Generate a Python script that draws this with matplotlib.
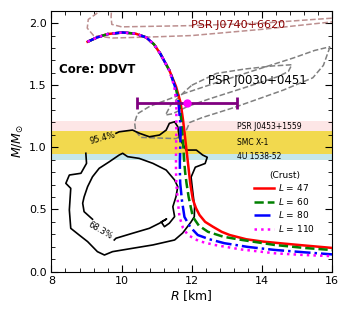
import numpy as np
import matplotlib.pyplot as plt
from matplotlib.ticker import MultipleLocator

# mass-radius curves (core DDVT + crust with different L)
core_R = [9.03, 9.3, 9.6, 10.03, 10.4, 10.7, 10.92, 11.1, 11.36]
core_M = [1.85, 1.885, 1.912, 1.925, 1.915, 1.885, 1.83, 1.755, 1.62]

r47 = [11.55, 11.68, 11.75, 11.80, 11.84, 11.88, 11.92, 11.96, 12.03, 12.12, 12.22, 12.38, 12.6, 12.85, 13.08, 13.55, 14.0, 14.51, 15.2, 16.0]
m47 = [1.49, 1.36, 1.22, 1.10, 1.0, 0.90, 0.80, 0.70, 0.58, 0.51, 0.455, 0.40, 0.361, 0.32, 0.294, 0.26, 0.242, 0.228, 0.21, 0.19]
r60 = [11.53, 11.64, 11.70, 11.73, 11.76, 11.78, 11.81, 11.85, 11.91, 12.03, 12.2, 12.46, 12.9, 13.41, 14.36, 15.2, 16.0]
m60 = [1.49, 1.36, 1.22, 1.10, 1.0, 0.90, 0.80, 0.71, 0.60, 0.44, 0.37, 0.32, 0.28, 0.255, 0.214, 0.19, 0.173]
r80 = [11.52, 11.62, 11.67, 11.68, 11.67, 11.66, 11.66, 11.67, 11.72, 11.79, 11.95, 12.17, 12.5, 12.93, 13.6, 14.36, 15.2, 16.0]
m80 = [1.49, 1.36, 1.20, 1.10, 1.0, 0.9, 0.8, 0.71, 0.57, 0.44, 0.36, 0.294, 0.26, 0.228, 0.198, 0.174, 0.155, 0.138]
r110 = [11.5, 11.56, 11.56, 11.56, 11.55, 11.55, 11.55, 11.56, 11.60, 11.65, 11.75, 11.89, 12.2, 12.65, 13.4, 14.36, 15.2, 16.0]
m110 = [1.49, 1.36, 1.2, 1.1, 1.0, 0.9, 0.8, 0.71, 0.57, 0.44, 0.35, 0.294, 0.245, 0.214, 0.178, 0.147, 0.133, 0.124]

L_vals = [47, 60, 80, 110]

# PSR J0740+6620 contours
j0740_out_R = [9.7, 9.3, 9.05, 9.02, 9.2, 9.74, 11.0, 12.0, 14.0, 16.0, 16.3, 16.3]
j0740_out_M = [2.15, 2.08, 2.03, 1.96, 1.90, 1.88, 1.89, 1.90, 1.95, 2.01, 2.02, 2.15]
j0740_in_R = [9.72, 9.70, 9.72, 10.0, 11.0, 12.0, 14.0, 16.0, 16.3, 16.3]
j0740_in_M = [2.15, 2.05, 1.99, 1.97, 1.975, 1.98, 2.0, 2.04, 2.05, 2.15]

# PSR J0030+0451 contours
j0030_out_R = [15.94, 15.75, 15.45, 14.6, 13.2, 12.3, 11.94, 11.8, 11.55, 10.55, 10.4, 10.37, 10.45, 10.8, 11.74, 12.8, 13.79, 14.9, 15.5, 15.94]
j0030_out_M = [1.81, 1.66, 1.56, 1.46, 1.32, 1.24, 1.20, 1.11, 1.07, 1.08, 1.13, 1.2, 1.27, 1.33, 1.43, 1.53, 1.62, 1.72, 1.78, 1.81]
j0030_in_R = [12.0, 12.7, 13.5, 14.3, 14.85, 14.75, 14.46, 13.5, 12.5, 11.89, 11.45, 11.25, 11.4, 11.8, 12.0]
j0030_in_M = [1.5, 1.595, 1.63, 1.655, 1.665, 1.61, 1.57, 1.48, 1.39, 1.33, 1.27, 1.26, 1.34, 1.45, 1.5]

# HESS J1731-347 contours
hess95_R = [9.84, 9.93, 10.31, 10.51, 10.79, 11.08, 11.27, 11.36, 11.51, 11.6, 11.65, 11.84, 12.13, 12.31, 12.44, 12.38, 12.1, 11.98, 12.02, 12.08, 12.07, 11.98, 11.74, 11.51, 10.89, 10.31, 9.74, 9.51, 9.31, 9.03, 8.79, 8.55, 8.51, 8.55, 8.41, 8.51, 8.84, 9.00, 8.98]
hess95_M = [1.113, 1.125, 1.139, 1.113, 1.085, 1.099, 1.139, 1.193, 1.206, 1.166, 1.072, 0.978, 0.978, 0.938, 0.92, 0.87, 0.84, 0.76, 0.66, 0.52, 0.44, 0.40, 0.31, 0.254, 0.214, 0.187, 0.160, 0.133, 0.160, 0.241, 0.294, 0.348, 0.496, 0.670, 0.710, 0.777, 0.791, 0.871, 0.952]
hess68_R = [9.79, 9.84, 10.31, 10.79, 11.08, 11.28, 11.13, 11.22, 11.36, 11.51, 11.46, 11.55, 11.6, 11.51, 11.27, 10.89, 10.5, 10.17, 10.03, 9.93, 9.65, 9.36, 9.17, 9.03, 8.93, 8.89, 8.93, 9.17]
hess68_M = [0.254, 0.268, 0.308, 0.348, 0.389, 0.423, 0.399, 0.361, 0.389, 0.442, 0.522, 0.603, 0.683, 0.737, 0.817, 0.871, 0.911, 0.925, 0.952, 0.938, 0.884, 0.831, 0.763, 0.683, 0.60, 0.55, 0.482, 0.421]

# NICER J0030 radius estimate
nicer_R, nicer_M, nicer_err = 11.87, 1.36, 1.43

# mass bands
bands = [("PSR J0453+1559", 1.13, 1.21, '#fde6e6'),
         ("SMC X-1", 0.95, 1.13, '#f2d94e'),
         ("4U 1538-52", 0.90, 0.95, '#c6e7ec')]

fig, ax = plt.subplots(figsize=(3.5, 3.15), dpi=100)
fig.subplots_adjust(left=0.147, right=0.949, bottom=0.138, top=0.966)

for name, lo, hi, c in bands:
    ax.axhspan(lo, hi, color=c, lw=0, zorder=0)
    ax.text(13.3, (lo + hi) / 2, name, fontsize=5.5, va='center', ha='left', zorder=1)

ax.plot(j0740_out_R, j0740_out_M, ls='--', color='#bc8f8f', lw=1.1, zorder=2)
ax.plot(j0740_in_R, j0740_in_M, ls='--', color='#bc8f8f', lw=1.1, zorder=2)
ax.plot(j0030_out_R, j0030_out_M, ls='--', color='gray', lw=1.1, zorder=2)
ax.plot(j0030_in_R, j0030_in_M, ls='--', color='gray', lw=1.1, zorder=2)

ax.plot(hess95_R, hess95_M, color='k', lw=1.2, zorder=3)
ax.plot(hess68_R, hess68_M, color='k', lw=1.2, zorder=3)
ax.text(9.45, 1.07, '95.4%', fontsize=6, rotation=15, ha='center', va='center')
ax.text(9.39, 0.33, '68.3%', fontsize=6, rotation=-30, ha='center', va='center')

ax.text(11.98, 1.985, 'PSR J0740+6620', color='darkred', fontsize=8, va='center')
ax.text(12.45, 1.54, 'PSR J0030+0451', color='k', fontsize=8.5, va='center')
ax.text(8.22, 1.63, 'Core: DDVT', fontsize=8.5, fontweight='bold', va='center')

styles = [('red', '-'), ('green', '--'), ('blue', '-.'), ('magenta', ':')]
crust = [(r47, m47), (r60, m60), (r80, m80), (r110, m110)]
for L, (r, m), (c, ls) in zip(L_vals, crust, styles):
    ax.plot(core_R + r, core_M + m, color=c, ls=ls, lw=1.8, zorder=5,
            label='$L$ = %d' % L)

ax.errorbar(nicer_R, nicer_M, xerr=nicer_err, color='purple', lw=2,
            capsize=4, capthick=2, marker='o', ms=5, mfc='magenta',
            mec='magenta', zorder=6)

ax.legend(title='(Crust)', fontsize=6.5, title_fontsize=6.5, frameon=False,
          loc='center', bbox_to_anchor=(0.83, 0.265), handlelength=2.2,
          labelspacing=0.28, handletextpad=0.5)

ax.set_xlim(8, 16)
ax.set_ylim(0, 2.1)
ax.set_xlabel('$R$ [km]', fontsize=9, labelpad=1)
ax.set_ylabel('$M/M_{\\odot}$', fontsize=9, labelpad=2)
ax.xaxis.set_major_locator(MultipleLocator(2))
ax.xaxis.set_minor_locator(MultipleLocator(0.4))
ax.yaxis.set_major_locator(MultipleLocator(0.5))
ax.yaxis.set_minor_locator(MultipleLocator(0.1))
ax.tick_params(which='both', direction='in', top=True, right=True, labelsize=8)
ax.tick_params(which='major', length=5)
ax.tick_params(which='minor', length=3)

fig.savefig('out.png', dpi=100)
